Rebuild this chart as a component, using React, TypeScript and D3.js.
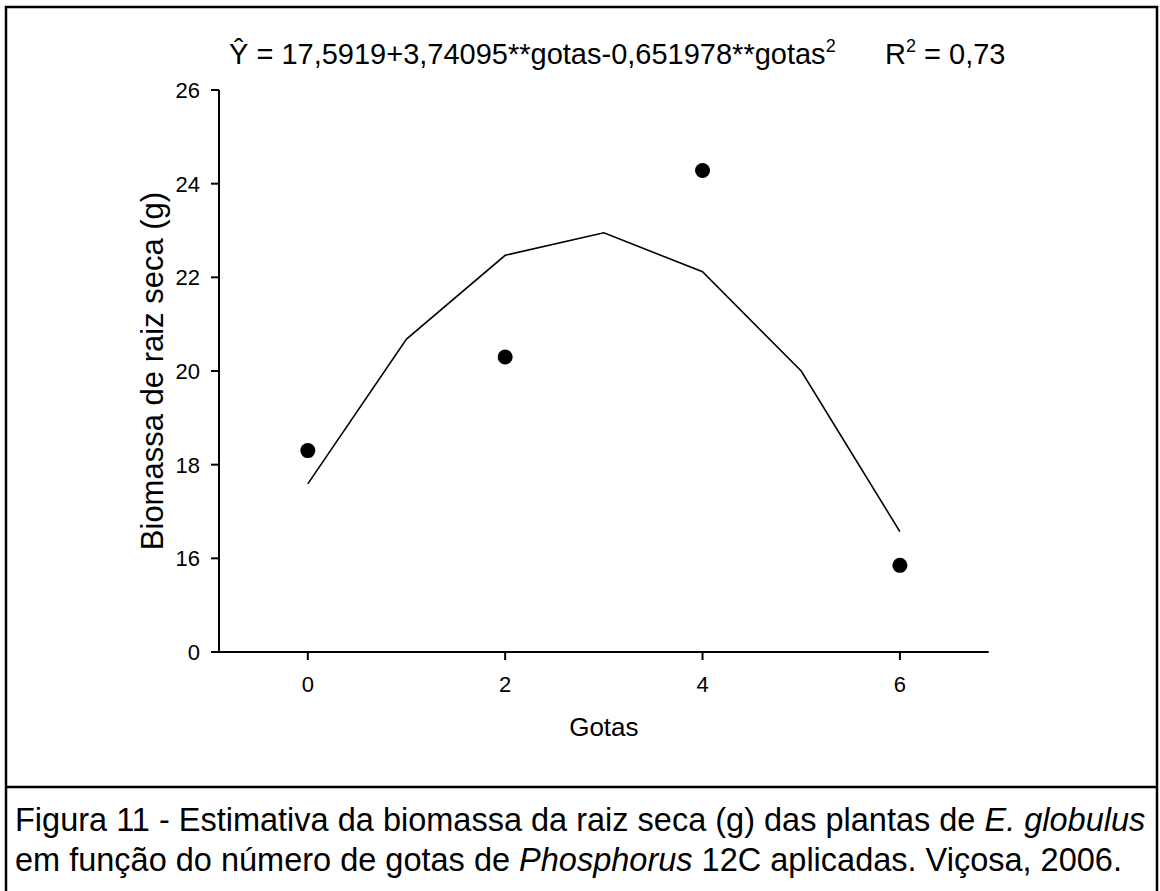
import React from "react";
import * as d3 from "d3";

// ---- data ----
const gotas = [0, 2, 4, 6];
const biomassa = [18.3, 20.3, 24.28, 15.85];

// fitted regression line as drawn (values read at each whole "gotas")
const curveX = [0, 1, 2, 3, 4, 5, 6];
const curveY = [17.59, 20.68, 22.47, 22.95, 22.12, 20.0, 16.57];

const xTicks = [0, 2, 4, 6];
// y axis has a break: the bottom tick is labelled 0 where 14 would be
const yTickValues = [14, 16, 18, 20, 22, 24, 26];
const yTickLabels = ["0", "16", "18", "20", "22", "24", "26"];

const xTitle = "Gotas";
const yTitle = "Biomassa de raiz seca (g)";
const caption1 = "Figura 11 - Estimativa da biomassa da raiz seca (g) das plantas de ";
const caption1It = "E. globulus";
const caption2a = "em função do número de gotas de ";
const caption2It = "Phosphorus";
const caption2b = " 12C aplicadas. Viçosa, 2006.";

const FONT = "'Liberation Sans', Arial, sans-serif";

export default function App() {
  const W = 1160;
  const H = 891;
  const x = d3.scaleLinear().domain([-0.9, 6.9]).range([219, 988.7]);
  const y = d3.scaleLinear().domain([14, 26]).range([652, 90]);

  const line = d3
    .line<number>()
    .x((_, i) => x(curveX[i]))
    .y((d) => y(d));

  const x0 = x.range()[0];
  const x1 = x.range()[1];
  const yb = y.range()[0];
  const yt = y.range()[1];

  return (
    <svg
      width={W}
      height={H}
      viewBox={`0 0 ${W} ${H}`}
      style={{ position: "absolute", left: 0, top: 0, background: "#fff", fontFamily: FONT }}
    >
      <rect x={0} y={0} width={W} height={H} fill="#fff" />
      {/* frame */}
      <path d={`M6,${H} V7 H1157 V${H}`} fill="none" stroke="#000" strokeWidth={2.5} />
      <line x1={6} x2={1157} y1={787} y2={787} stroke="#000" strokeWidth={2.5} />

      {/* equation */}
      <text x={229} y={64} fontSize={29} fill="#000">
        <tspan>Ŷ = 17,5919+3,74095**gotas-0,651978**gotas</tspan>
        <tspan fontSize={18} dy={-12}>2</tspan>
      </text>
      <text x={885} y={64} fontSize={29} fill="#000">
        <tspan>R</tspan>
        <tspan fontSize={18} dy={-12}>2</tspan>
        <tspan dy={12}> = 0,73</tspan>
      </text>

      {/* axes */}
      <line x1={x0} x2={x0} y1={yt} y2={yb} stroke="#000" strokeWidth={2} />
      <line x1={x0} x2={x1} y1={yb} y2={yb} stroke="#000" strokeWidth={2} />
      {yTickValues.map((v, i) => (
        <g key={"yt" + v}>
          <line x1={x0 - 8} x2={x0} y1={y(v)} y2={y(v)} stroke="#000" strokeWidth={2} />
          <text x={200} y={y(v)} dy="0.36em" textAnchor="end" fontSize={22} fill="#000">
            {yTickLabels[i]}
          </text>
        </g>
      ))}
      {xTicks.map((v) => (
        <g key={"xt" + v}>
          <line x1={x(v)} x2={x(v)} y1={yb} y2={yb + 8} stroke="#000" strokeWidth={2} />
          <text x={x(v)} y={692} textAnchor="middle" fontSize={22} fill="#000">
            {v}
          </text>
        </g>
      ))}
      <text x={(x0 + x1) / 2} y={736} textAnchor="middle" fontSize={26} fill="#000">
        {xTitle}
      </text>
      <text
        transform={`translate(163,${(yt + yb) / 2}) rotate(-90)`}
        textAnchor="middle"
        fontSize={31}
        fill="#000"
      >
        {yTitle}
      </text>

      {/* regression line */}
      <path d={line(curveY) || ""} fill="none" stroke="#000" strokeWidth={1.6} />

      {/* observed points */}
      {gotas.map((g, i) => (
        <circle key={"p" + g} cx={x(g)} cy={y(biomassa[i])} r={7.5} fill="#000" />
      ))}

      {/* caption */}
      <text x={15} y={831} fontSize={32.5} fill="#000">
        <tspan>{caption1}</tspan>
        <tspan fontStyle="italic">{caption1It}</tspan>
      </text>
      <text x={15} y={871} fontSize={32.5} fill="#000">
        <tspan>{caption2a}</tspan>
        <tspan fontStyle="italic">{caption2It}</tspan>
        <tspan>{caption2b}</tspan>
      </text>
    </svg>
  );
}
